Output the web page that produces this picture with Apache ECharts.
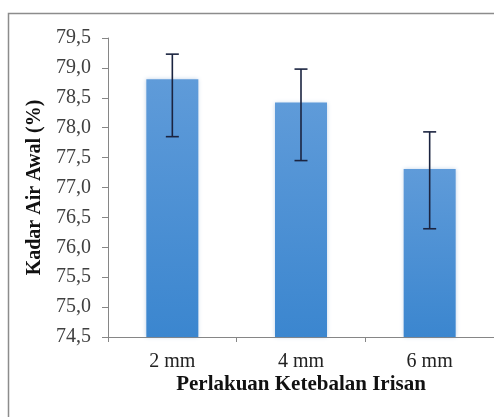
<!DOCTYPE html>
<html>
<head>
<meta charset="utf-8">
<script src="https://cdn.jsdelivr.net/npm/echarts@6/dist/echarts.min.js"></script>
<style>
html,body{margin:0;padding:0;background:#fff;}
#chart{width:494px;height:417px;}
</style>
</head>
<body>
<div id="chart"></div>
<script>
var categories = ['2 mm', '4 mm', '6 mm'];
var means = [78.81, 78.42, 77.31];
var errUpper = [79.23, 78.98, 77.93];
var errLower = [77.85, 77.45, 76.31];
var yTicks = [74.5, 75.0, 75.5, 76.0, 76.5, 77.0, 77.5, 78.0, 78.5, 79.0, 79.5];

var chart = echarts.init(document.getElementById('chart'), null, {renderer: 'canvas'});
var serif = "'Times New Roman', 'Liberation Serif', 'DejaVu Serif', serif";

var option = {
  animation: false,
  backgroundColor: '#ffffff',
  textStyle: {fontFamily: serif},
  graphic: [{
    type: 'rect',
    shape: {x: 8.5, y: 13.5, width: 520, height: 440},
    style: {fill: 'none', stroke: '#8c8c8c', lineWidth: 1.5},
    silent: true
  }],
  grid: {left: 108, top: 38, width: 393, height: 299, containLabel: false},
  xAxis: {
    type: 'category',
    data: categories,
    name: 'Perlakuan Ketebalan Irisan',
    nameLocation: 'middle',
    nameGap: 37,
    nameMoveOverlap: false,
    nameTextStyle: {fontFamily: serif, fontSize: 21, fontWeight: 'bold', color: '#111'},
    axisLine: {lineStyle: {color: '#868686', width: 1}},
    axisTick: {show: true, length: 5, lineStyle: {color: '#868686'}},
    axisLabel: {fontFamily: serif, fontSize: 20, color: '#222', margin: 15}
  },
  yAxis: {
    type: 'value',
    min: yTicks[0],
    max: yTicks[yTicks.length - 1],
    interval: 0.5,
    name: 'Kadar Air Awal (%)',
    nameLocation: 'middle',
    nameGap: 63,
    nameMoveOverlap: false,
    nameRotate: 90,
    nameTextStyle: {fontFamily: serif, fontSize: 20, fontWeight: 'bold', color: '#111'},
    splitLine: {show: false},
    axisLine: {show: true, lineStyle: {color: '#868686', width: 1}},
    axisTick: {show: true, length: 6, lineStyle: {color: '#868686'}},
    axisLabel: {
      fontFamily: serif, fontSize: 20, color: '#404040', margin: 17,
      formatter: function (v) { return v.toFixed(1).replace('.', ','); }
    }
  },
  series: [{
    type: 'bar',
    data: means,
    barWidth: 52,
    itemStyle: {
      color: new echarts.graphic.LinearGradient(0, 0, 0, 1, [
        {offset: 0, color: '#5f9bd9'},
        {offset: 1, color: '#3b86cf'}
      ]),
      shadowColor: 'rgba(80,130,190,0.35)',
      shadowBlur: 4
    }
  }, {
    type: 'custom',
    data: categories.map(function (c, i) { return [i, errLower[i], errUpper[i]]; }),
    renderItem: function (params, api) {
      var lo = api.coord([api.value(0), api.value(1)]);
      var hi = api.coord([api.value(0), api.value(2)]);
      var hw = 6.5;
      var st = {stroke: '#1b2440', lineWidth: 1.6};
      return {
        type: 'group',
        children: [
          {type: 'line', shape: {x1: hi[0], y1: hi[1], x2: lo[0], y2: lo[1]}, style: st},
          {type: 'line', shape: {x1: hi[0] - hw, y1: hi[1], x2: hi[0] + hw, y2: hi[1]}, style: st},
          {type: 'line', shape: {x1: lo[0] - hw, y1: lo[1], x2: lo[0] + hw, y2: lo[1]}, style: st}
        ]
      };
    },
    z: 5
  }]
};
chart.setOption(option);
</script>
</body>
</html>
